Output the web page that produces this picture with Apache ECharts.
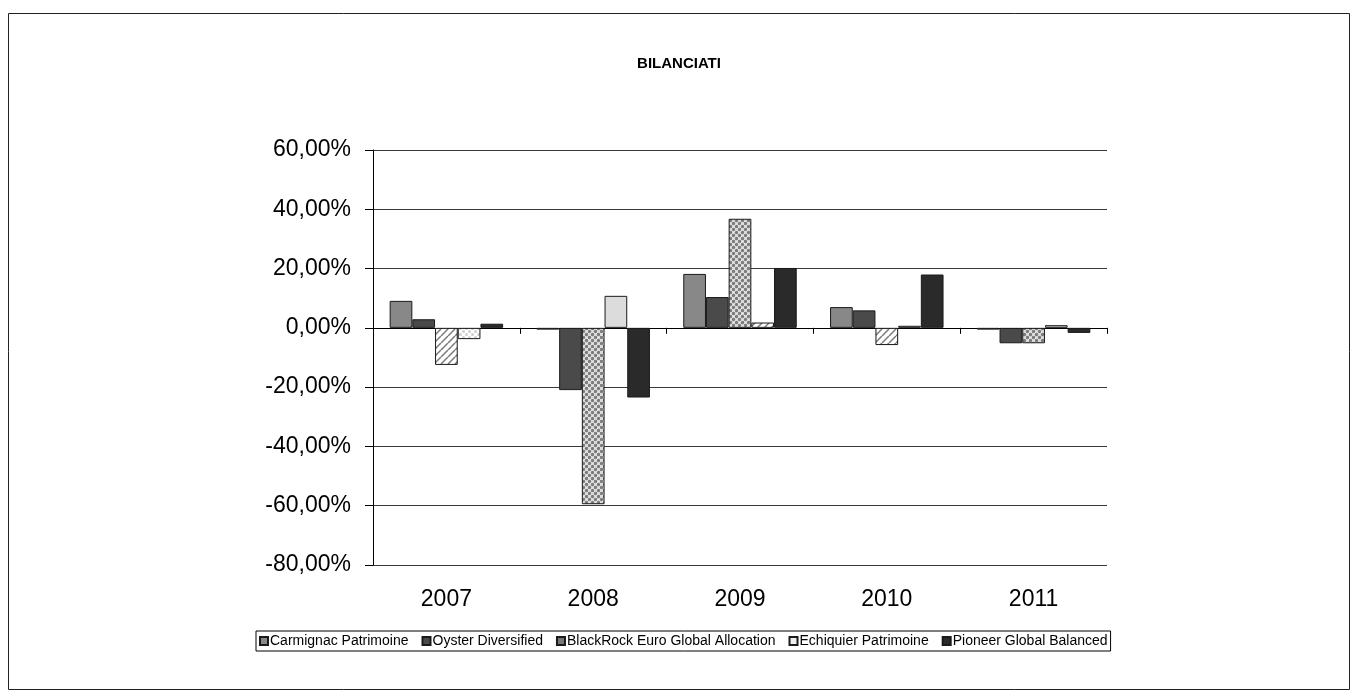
<!DOCTYPE html>
<html>
<head>
<meta charset="utf-8">
<script src="https://cdn.jsdelivr.net/npm/echarts@6/dist/echarts.min.js"></script>
<style>
html,body{margin:0;padding:0;background:#fff;}
#chart{width:1358px;height:700px;}
</style>
</head>
<body>
<div id="chart"></div>
<script>
const categories = ['2007', '2008', '2009', '2010', '2011'];
const seriesNames = ['Carmignac Patrimoine', 'Oyster Diversified', 'BlackRock Euro Global Allocation', 'Echiquier Patrimoine', 'Pioneer Global Balanced'];
const carmignac = [9.1, -0.6, 18.2, 7.0, -0.6];
const oyster = [2.9, -21.0, 10.4, 5.9, -5.2];
const blackrock = [-12.5, -59.5, 36.8, -5.8, -5.2];
const echiquier = [-3.8, 10.8, 1.8, 0.7, 0.9];
const pioneer = [1.4, -23.5, 20.2, 18.0, -1.7];
const yTicks = [-80, -60, -40, -20, 0, 20, 40, 60];

const FONT = '"Liberation Sans", Arial, sans-serif';

function makeHatch() {
  const c = document.createElement('canvas');
  c.width = 7; c.height = 7;
  const g = c.getContext('2d');
  g.fillStyle = '#ffffff'; g.fillRect(0, 0, 7, 7);
  g.strokeStyle = '#7a7a7a'; g.lineWidth = 1.5;
  for (let k = -7; k <= 14; k += 7) {
    g.beginPath(); g.moveTo(k, 7); g.lineTo(k + 7, 0); g.stroke();
  }
  return { image: c, repeat: 'repeat' };
}
function makeDots(fg, bg, r) {
  const c = document.createElement('canvas');
  c.width = 6; c.height = 6;
  const g = c.getContext('2d');
  g.fillStyle = bg; g.fillRect(0, 0, 6, 6);
  g.fillStyle = fg;
  const pts = [[1.5, 1.5], [4.5, 4.5], [4.5, -1.5], [-1.5, 4.5], [7.5, 1.5], [1.5, 7.5]];
  pts.forEach(p => { g.beginPath(); g.arc(p[0], p[1], r, 0, Math.PI * 2); g.fill(); });
  return { image: c, repeat: 'repeat' };
}

const fills = {
  hatch: makeHatch(),
  dots: makeDots('#7c7c7c', '#e6e6e6', 1.7),
  lightdots: makeDots('#cfcfcf', '#ffffff', 1.5)
};

const seriesValues = [carmignac, oyster, blackrock, echiquier, pioneer];
const legendColors = ['#888888', '#4a4a4a', '#777777', '#eeeeee', '#2a2a2a'];
const pointFills = [
  null,
  null,
  ['hatch', 'dots', 'dots', 'hatch', 'dots'],
  ['lightdots', '#dcdcdc', 'hatch', '#dddddd', '#cccccc'],
  null
];

const series = seriesValues.map((vals, i) => ({
  name: seriesNames[i],
  type: 'bar',
  xAxisIndex: 0,
  barGap: '0%',
  barCategoryGap: '22.7%',
  itemStyle: { color: legendColors[i], borderColor: '#1a1a1a', borderWidth: 1 },
  emphasis: { disabled: true },
  data: vals.map((v, j) => {
    const f = pointFills[i] ? pointFills[i][j] : null;
    if (!f) return v;
    return { value: v, itemStyle: { color: fills[f] || f } };
  })
}));

const chart = echarts.init(document.getElementById('chart'), null, { renderer: 'canvas' });
chart.setOption({
  animation: false,
  backgroundColor: '#ffffff',
  textStyle: { fontFamily: FONT },
  title: {
    text: 'BILANCIATI',
    left: 'center',
    top: 51,
    textStyle: { fontFamily: FONT, fontSize: 15, fontWeight: 'bold', color: '#000' }
  },
  legend: {
    data: seriesNames,
    top: 631,
    left: 256,
    icon: 'rect',
    itemWidth: 8,
    itemHeight: 8,
    itemGap: 13,
    padding: [3, 3, 3, 3],
    borderColor: '#000',
    borderWidth: 1,
    textStyle: { fontFamily: FONT, fontSize: 14, color: '#000', padding: [0, 0, 0, -3] }
  },
  graphic: [{
    type: 'rect',
    shape: { x: 8.5, y: 13.5, width: 1341, height: 676 },
    style: { fill: 'none', stroke: '#222', lineWidth: 1 },
    silent: true,
    z: -10
  }],
  grid: { left: 373, right: 251, top: 150, bottom: 135, containLabel: false },
  xAxis: [{
    type: 'category',
    data: categories,
    axisLine: { onZero: true, lineStyle: { color: '#000', width: 1 } },
    axisTick: { show: true, length: 6, lineStyle: { color: '#000' } },
    axisLabel: { show: false },
    splitLine: { show: false }
  }, {
    type: 'category',
    data: categories,
    position: 'bottom',
    axisLine: { show: false, onZero: false },
    axisTick: { show: false },
    axisLabel: { show: true, fontFamily: FONT, fontSize: 23, color: '#000', margin: 23 },
    splitLine: { show: false }
  }],
  yAxis: {
    type: 'value',
    min: yTicks[0],
    max: yTicks[yTicks.length - 1],
    interval: 20,
    axisLine: { show: true, lineStyle: { color: '#000', width: 1 } },
    axisTick: { show: true, length: 8, lineStyle: { color: '#000' } },
    axisLabel: {
      fontFamily: FONT, fontSize: 23, color: '#000', margin: 22,
      formatter: v => v.toFixed(2).replace('.', ',') + '%'
    },
    splitLine: { show: true, lineStyle: { color: '#3a3a3a', width: 1 } }
  },
  series: series
});
</script>
</body>
</html>
